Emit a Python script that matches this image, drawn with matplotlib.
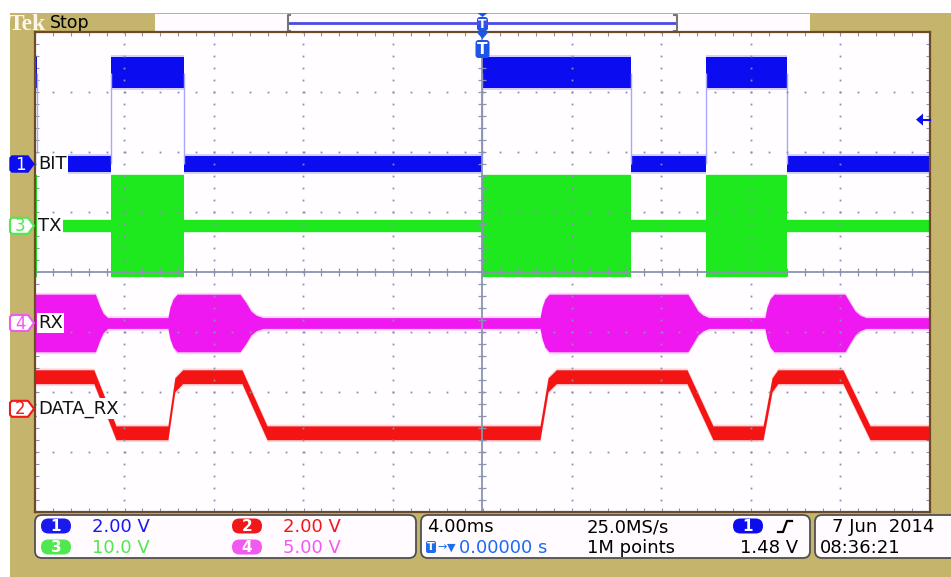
import matplotlib.pyplot as plt
from matplotlib.patches import Rectangle, FancyBboxPatch, Polygon
import numpy as np

W, H = 951, 577

# --- scope settings ---
ms_per_div = 4.0
ch_numbers = ["1", "2", "3", "4"]
ch_labels = ["BIT", "DATA_RX", "TX", "RX"]
ch_volts_div = [2.0, 2.0, 10.0, 5.0]
ch_pos_div = [1.8, -2.28, 0.77, -0.85]
ch_colors = ["#0c0cf0", "#f51414", "#1ee81e", "#f018f0"]
ch_read_colors = ["#1a1aef", "#f01818", "#4fe84f", "#f05af0"]
ch_readouts = ["2.00 V", "2.00 V", "10.0 V", "5.00 V"]
trig_level_v = 1.48
horiz_scale = "4.00ms"
sample_rate = "25.0MS/s"
record_len = "1M points"
trig_pos = "0.00000 s"
trig_text = "1.48 V"
date_text = "7 Jun  2014"
time_text = "08:36:21"

# --- waveforms (time in ms, levels in V) ---
bit_high_start = [-20.5, -16.6, 0.0, 10.0]
bit_high_end = [-19.93, -13.35, 6.64, 13.6]
bit_levels_v = [0.0, 3.05]
bit_band_v = [0.27, 0.52]

tx_burst_start = [-20.5, -16.6, 0.0, 10.0]
tx_burst_end = [-19.93, -13.35, 6.62, 13.6]
tx_band_v = [1.0, 8.5]  # idle half-width, burst half-span

rx_env_t = [-20.0, -17.3, -17.1, -16.95, -16.75,
            -14.06, -13.97, -13.83, -13.65, -10.84, -10.57, -10.35, -10.12, -9.81,
            2.57, 2.66, 2.79, 2.97, 9.18, 9.41, 9.63, 9.86, 10.12,
            12.62, 12.71, 12.85, 13.03, 16.2, 16.42, 16.65, 16.87, 17.14, 20.0]
rx_env_v = [2.4, 2.4, 1.4, 0.8, 0.45,
            0.45, 1.3, 2.0, 2.4, 2.4, 1.7, 1.0, 0.65, 0.45,
            0.45, 1.3, 2.0, 2.4, 2.4, 1.7, 1.0, 0.65, 0.45,
            0.45, 1.3, 2.0, 2.4, 2.4, 1.7, 1.0, 0.65, 0.45, 0.45]

data_rx_t = [-20.0, -17.37, -16.38, -14.06, -13.75, -13.4, -10.75, -9.63,
             2.57, 2.93, 3.3, 9.14, 10.3, 12.54, 12.94, 13.2, 16.11, 17.32, 20.0]
data_rx_v = [1.07, 1.07, -0.8, -0.8, 0.8, 1.07, 1.07, -0.8,
             -0.8, 0.8, 1.07, 1.07, -0.8, -0.8, 0.8, 1.07, 1.07, -0.8, -0.8]
data_rx_band_v = 0.23

khaki = "#c5b46c"
grid_col = "#8890ae"


def steps(starts, ends, lo, hi):
    t, v = [-20.5], [lo]
    for s, e in zip(starts, ends):
        t += [s, s, e, e]
        v += [lo, hi, hi, lo]
    t.append(20.5)
    v.append(lo)
    return np.array(t), np.array(v)


def band(ax, t, center_v, half_v, ch, color, fuzz=0.03):
    pos, sc = ch_pos_div[ch], ch_volts_div[ch]
    c = pos + np.asarray(center_v) / sc
    h = np.asarray(half_v) / sc
    ax.fill_between(t, c - h - fuzz, c + h + fuzz, color=color, alpha=0.18, lw=0, zorder=2)
    ax.fill_between(t, c - h, c + h, color=color, lw=0, zorder=2)


fig = plt.figure(figsize=(W / 100, H / 100), dpi=100)
fig.patch.set_facecolor("white")

bg = fig.add_axes([0, 0, 1, 1], zorder=0)
bg.set_xlim(0, W); bg.set_ylim(H, 0); bg.axis("off")
ax = fig.add_axes([35 / W, (H - 512) / H, 895 / W, 480 / H], zorder=1)
ov = fig.add_axes([0, 0, 1, 1], zorder=2)
ov.set_xlim(0, W); ov.set_ylim(H, 0); ov.axis("off")
ov.patch.set_visible(False)

# --- graticule ---
ax.set_facecolor("#fffdff")
ax.set_xlim(-5 * ms_per_div, 5 * ms_per_div)
ax.set_ylim(-4, 4)
for s in ax.spines.values():
    s.set_color("#6e4a26"); s.set_linewidth(1.6); s.set_zorder(6)
ax.set_xticks(np.arange(-20, 20.01, 0.8))
ax.set_yticks(np.arange(-4, 4.01, 0.2))
ax.tick_params(direction="in", length=3, width=0.8, color=grid_col, top=True, right=True,
               labelbottom=False, labelleft=False)

minor_t = np.arange(-20, 20.01, 0.8)
minor_d = np.arange(-4, 4.01, 0.2)
for k in [-4, -3, -2, -1, 1, 2, 3, 4]:
    ax.plot(np.full_like(minor_d, k * ms_per_div), minor_d, ls="none", marker="s",
            ms=1.3, mew=0, color=grid_col, zorder=4)
for k in [-3, -2, -1, 1, 2, 3]:
    ax.plot(minor_t, np.full_like(minor_t, k), ls="none", marker="s",
            ms=1.3, mew=0, color=grid_col, zorder=4)
ax.axhline(0, color="#8a94b0", lw=1.3, zorder=4)
ax.axvline(0, color="#8a94b0", lw=1.3, zorder=4)
ax.plot(minor_t, np.zeros_like(minor_t), ls="none", marker="|", ms=6, mew=0.9,
        color="#8a94b0", zorder=4)
ax.plot(np.zeros_like(minor_d), minor_d, ls="none", marker="_", ms=6, mew=0.9,
        color="#8a94b0", zorder=4)

# --- traces ---
t1, v1 = steps(bit_high_start, bit_high_end, bit_levels_v[0], bit_levels_v[1])
h1 = np.where(v1 > 1, bit_band_v[1], bit_band_v[0])
band(ax, t1, v1, h1, 0, ch_colors[0])
edges = bit_high_start + bit_high_end
ax.vlines(edges, ch_pos_div[0] + bit_levels_v[0] / ch_volts_div[0],
          ch_pos_div[0] + bit_levels_v[1] / ch_volts_div[0], color="#a8a8ff", lw=1, zorder=2)

t3, flag3 = steps(tx_burst_start, tx_burst_end, 0, 1)
h3 = np.where(flag3 > 0, tx_band_v[1], tx_band_v[0])
band(ax, t3, np.zeros_like(t3), h3, 2, ch_colors[2], fuzz=0.02)

band(ax, np.array(rx_env_t), np.zeros(len(rx_env_t)), np.array(rx_env_v), 3, ch_colors[3])
band(ax, np.array(data_rx_t), np.array(data_rx_v), data_rx_band_v, 1, ch_colors[1])


def to_px(t, d):
    disp = ax.transData.transform((t, d))
    return ov.transData.inverted().transform(disp)


# --- background frame and top bar ---
bg.add_patch(Rectangle((10, 13), W - 10, H - 13, fc=khaki, ec="none"))
bg.text(9, 30.5, "Tek", fontsize=17, fontweight="bold", family="Liberation Serif",
        color="#fbf6e8", ha="left", va="baseline")
bg.text(50, 28, "Stop", fontsize=12.5, color="black", ha="left", va="baseline")
bg.add_patch(Rectangle((155, 14), 655, 17, fc="#fffbff", ec="none"))
bg.plot([289, 676], [22.5, 22.5], color="#4a4ae6", lw=2)
bg.plot([290, 287.5, 287.5, 290], [15, 15, 30.5, 30.5], color="#777777", lw=1.5)
bg.plot([674, 676.5, 676.5, 674], [15, 15, 30.5, 30.5], color="#777777", lw=1.5)

x0 = to_px(0, 0)[0]
tcol = "#1f55e6"
bg.add_patch(Polygon([(x0 - 5, 13), (x0 + 5, 13), (x0, 17)], fc=tcol, ec="none"))
bg.add_patch(FancyBboxPatch((x0 - 5.5, 17), 11, 14, boxstyle="round,pad=0,rounding_size=3",
                            fc=tcol, ec="none"))
bg.text(x0, 24.5, "T", color="white", fontsize=9, fontweight="bold", ha="center", va="center")
ov.add_patch(Polygon([(x0 - 6, 32), (x0 + 6, 32), (x0, 39)], fc=tcol, ec="none"))
ov.add_patch(FancyBboxPatch((x0 - 7, 40), 14, 18, boxstyle="round,pad=0,rounding_size=3",
                            fc=tcol, ec="none"))
ov.text(x0, 49.5, "T", color="white", fontsize=11, fontweight="bold", ha="center", va="center")

# trigger level arrow
ty = to_px(0, ch_pos_div[0] + trig_level_v / ch_volts_div[0])[1]
ov.add_patch(Polygon([(916, ty), (923, ty - 6), (923, ty + 6)], fc=ch_colors[0], ec="none"))
ov.plot([922, 930], [ty, ty], color=ch_colors[0], lw=1.5)

# --- channel markers and labels ---
for i in range(4):
    y = to_px(0, ch_pos_div[i])[1]
    pts = [(12, y - 8), (28, y - 8), (34, y), (28, y + 8), (12, y + 8), (10, y + 6), (10, y - 6)]
    if i == 0:
        ov.add_patch(Polygon(pts, fc=ch_colors[i], ec=ch_colors[i], lw=1))
        tc = "white"
    else:
        ov.add_patch(Polygon(pts, fc="white", ec=ch_read_colors[i], lw=1.5))
        tc = ch_read_colors[i]
    ov.text(20, y + 0.5, ch_numbers[i], color=tc, fontsize=12, ha="center", va="center")
    ov.text(38, y, ch_labels[i], fontsize=13, color="#111111", ha="left", va="center",
            bbox=dict(fc="white", ec="none", pad=1))

# --- status readouts ---
def pill(x, yc, label, fc):
    bg.add_patch(FancyBboxPatch((x, yc - 7.5), 30, 15, boxstyle="round,pad=0,rounding_size=7.5",
                                fc=fc, ec="none"))
    bg.text(x + 15, yc + 0.5, label, color="white", fontsize=11, fontweight="bold",
            ha="center", va="center")


for x, w in [(35, 381), (421, 389), (815, 160)]:
    bg.add_patch(FancyBboxPatch((x, 515), w, 43, boxstyle="round,pad=0,rounding_size=7",
                                fc="#fffbff", ec="#505050", lw=1.3))

rows = [526, 547]
base = [532.5, 553]
order = [(0, 41, 92, 0), (1, 232, 283, 0), (2, 41, 92, 1), (3, 232, 283, 1)]
for ch, px, tx, r in order:
    pill(px, rows[r], ch_numbers[ch], ch_read_colors[ch])
    bg.text(tx, base[r], ch_readouts[ch], color=ch_read_colors[ch], fontsize=13, va="baseline")

bg.text(427, base[0], horiz_scale, fontsize=13, va="baseline")
bg.text(587, base[0], sample_rate, fontsize=13, va="baseline")
bg.text(587, base[1], record_len, fontsize=13, va="baseline")
pill(733, rows[0], ch_numbers[0], ch_colors[0])
bg.plot([778, 783, 787, 792], [532, 532, 521, 521], color="black", lw=1.6)
bg.text(798, base[1], trig_text, fontsize=13, ha="right", va="baseline")

bg.add_patch(FancyBboxPatch((426, 541), 10, 12, boxstyle="round,pad=0,rounding_size=2",
                            fc="#1e6cf0", ec="none"))
bg.text(431, 547.5, "T", color="white", fontsize=8, fontweight="bold", ha="center", va="center")
bg.text(437, 547.5, "→", color="#1e6cf0", fontsize=8, va="center")
bg.text(447, 547.5, "▼", color="#1e6cf0", fontsize=8, va="center")
bg.text(459, base[1], trig_pos, color="#1e6cf0", fontsize=13, va="baseline")

bg.text(832, base[0], date_text, fontsize=13, va="baseline")
bg.text(820, base[1], time_text, fontsize=13, va="baseline")

fig.savefig("out.png", dpi=100)
